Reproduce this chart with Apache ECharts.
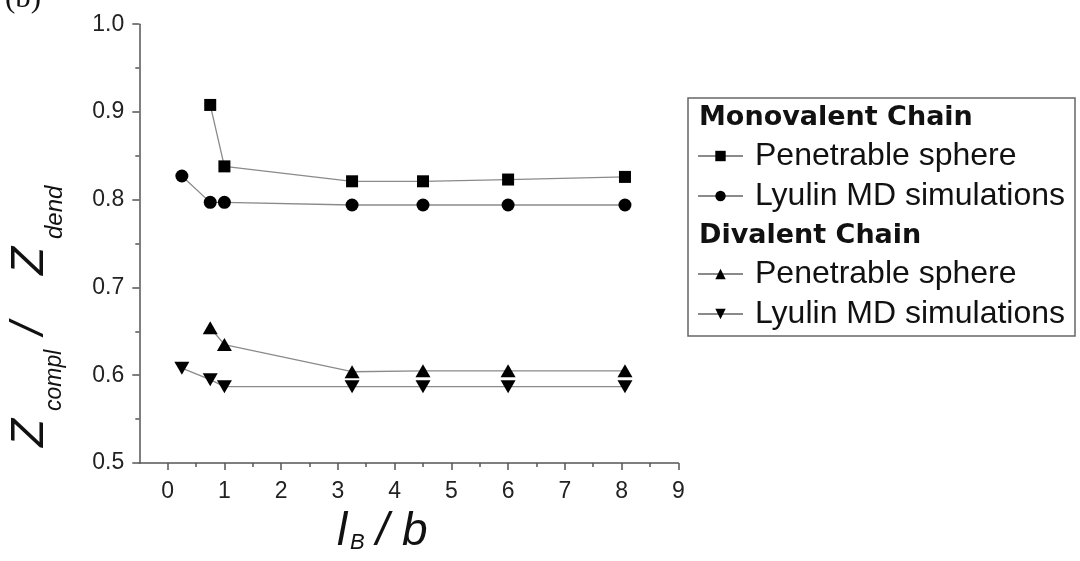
<!DOCTYPE html>
<html>
<head>
<meta charset="utf-8">
<script src="https://cdn.jsdelivr.net/npm/echarts@6/dist/echarts.min.js"></script>
<style>
  html, body { margin: 0; padding: 0; background: #fff; }
  #chart { width: 1080px; height: 561px; }
</style>
</head>
<body>
<div id="chart"></div>
<script>
// l_B / b values and compensation ratios Z_compl / Z_dend
const monoPenX = [0.75, 1.0, 3.25, 4.5, 6.0, 8.06];
const monoPenY = [0.908, 0.838, 0.821, 0.821, 0.823, 0.826];
const monoMdX = [0.25, 0.75, 1.0, 3.25, 4.5, 6.0, 8.06];
const monoMdY = [0.827, 0.797, 0.797, 0.794, 0.794, 0.794, 0.794];
const diPenX = [0.75, 1.0, 3.25, 4.5, 6.0, 8.06];
const diPenY = [0.654, 0.635, 0.604, 0.605, 0.605, 0.605];
const diMdX = [0.25, 0.75, 1.0, 3.25, 4.5, 6.0, 8.06];
const diMdY = [0.608, 0.595, 0.587, 0.587, 0.587, 0.587, 0.587];

// axis ticks
const xMajorTicks = [0, 1, 2, 3, 4, 5, 6, 7, 8, 9];
const xMinorTicks = [0.5, 1.5, 2.5, 3.5, 4.5, 5.5, 6.5, 7.5, 8.5];

// legend groups
const groupMono = 'Monovalent Chain';
const groupDi = 'Divalent Chain';
const labelPen = 'Penetrable sphere';
const labelMd = 'Lyulin MD simulations';

const zip = (xs, ys) => xs.map((x, i) => [x, ys[i]]);

const axisColor = '#555';
const lineColor = '#8a8a8a';
const sansFont = '"Liberation Sans", Arial, sans-serif';

function makeSeries(group, label, xs, ys, symbol, size, rotate) {
  return {
    name: group + ' | ' + label,
    type: 'line',
    data: zip(xs, ys),
    symbol: symbol,
    symbolSize: size,
    symbolRotate: rotate || 0,
    itemStyle: { color: '#000' },
    lineStyle: { color: lineColor, width: 1.3 },
    emphasis: { disabled: true }
  };
}

const series = [
  makeSeries(groupMono, labelPen, monoPenX, monoPenY, 'rect', 12),
  makeSeries(groupMono, labelMd, monoMdX, monoMdY, 'circle', 13),
  makeSeries(groupDi, labelPen, diPenX, diPenY, 'triangle', [15, 13]),
  makeSeries(groupDi, labelMd, diMdX, diMdY, 'triangle', [15, 13], 180)
];

function legendFor(group, top) {
  return {
    orient: 'vertical',
    left: 697,
    top: top,
    padding: 0,
    itemWidth: 45,
    itemHeight: 13,
    itemGap: 8,
    selectedMode: false,
    data: [group + ' | ' + labelPen, group + ' | ' + labelMd],
    formatter: name => name.split(' | ')[1],
    textStyle: {
      fontFamily: sansFont,
      fontSize: 32,
      lineHeight: 32,
      color: '#111',
      padding: [0, 0, 0, 7]
    }
  };
}

const chart = echarts.init(document.getElementById('chart'), null, { renderer: 'canvas' });

const mainText = (text, x, y, size) => ({
  type: 'text', x: x, y: y,
  style: { text: text, fontFamily: sansFont, fontStyle: 'italic', fontSize: size, fill: '#111', align: 'left', verticalAlign: 'middle' }
});

chart.setOption({
  animation: false,
  backgroundColor: '#fff',
  grid: { left: 139.3, right: 401.7, top: 24.2, bottom: 98, containLabel: false },
  xAxis: [
    {
      type: 'value',
      min: -0.5,
      max: 9,
      position: 'bottom',
      axisLine: { show: true, onZero: false, lineStyle: { color: axisColor, width: 1.5 } },
      axisTick: { show: true, customValues: xMajorTicks, length: 7, lineStyle: { color: axisColor, width: 1.5 } },
      axisLabel: {
        customValues: xMajorTicks,
        margin: 17,
        fontFamily: sansFont,
        fontSize: 23,
        color: '#222'
      },
      splitLine: { show: false }
    },
    {
      type: 'value',
      min: -0.5,
      max: 9,
      position: 'bottom',
      axisLine: { show: false, onZero: false },
      axisTick: { show: true, customValues: xMinorTicks, length: 4, lineStyle: { color: axisColor, width: 1.5 } },
      axisLabel: { show: false },
      splitLine: { show: false }
    }
  ],
  yAxis: {
    type: 'value',
    min: 0.5,
    max: 1.0,
    interval: 0.1,
    axisLine: { show: true, onZero: false, lineStyle: { color: axisColor, width: 1.5 } },
    axisTick: { show: true, length: 7, lineStyle: { color: axisColor, width: 1.5 } },
    minorTick: { show: true, splitNumber: 2, length: 4, lineStyle: { color: axisColor, width: 1.5 } },
    axisLabel: {
      margin: 15,
      fontFamily: sansFont,
      fontSize: 23,
      color: '#222',
      formatter: v => v.toFixed(1)
    },
    splitLine: { show: false }
  },
  legend: [legendFor(groupMono, 140), legendFor(groupDi, 258)],
  series: series,
  graphic: [
    // panel label
    {
      type: 'text', x: 5, y: 14,
      style: { text: '(b)', fontFamily: '"Liberation Serif", "Times New Roman", serif', fontSize: 31, fill: '#111', align: 'left', verticalAlign: 'bottom' }
    },
    // legend frame
    {
      type: 'rect',
      shape: { x: 688, y: 98, width: 387, height: 238 },
      style: { fill: 'none', stroke: '#666', lineWidth: 1.5 }
    },
    // legend group headings
    {
      type: 'text', x: 699, y: 117.5,
      style: { text: groupMono, fontFamily: '"DejaVu Sans", sans-serif', fontWeight: 'bold', fontSize: 27, fill: '#111', align: 'left', verticalAlign: 'middle' }
    },
    {
      type: 'text', x: 699, y: 235.5,
      style: { text: groupDi, fontFamily: '"DejaVu Sans", sans-serif', fontWeight: 'bold', fontSize: 27, fill: '#111', align: 'left', verticalAlign: 'middle' }
    },
    // x axis title: l_B / b
    {
      type: 'group',
      children: [
        mainText('l', 337, 532.7, 46),
        mainText('B', 350, 542.5, 22),
        mainText('/', 376, 532.7, 46),
        mainText('b', 402, 532.7, 46)
      ]
    },
    // y axis title: Z_compl / Z_dend, reading bottom to top
    {
      type: 'group',
      x: 45, y: 447,
      rotation: Math.PI / 2,
      children: [
        mainText('Z', 0, -14.3, 46),
        mainText('compl', 36, 10, 23),
        mainText('/', 112, -14.3, 46),
        mainText('Z', 172, -14.3, 46),
        mainText('dend', 208, 10, 24)
      ]
    }
  ]
});
</script>
</body>
</html>
